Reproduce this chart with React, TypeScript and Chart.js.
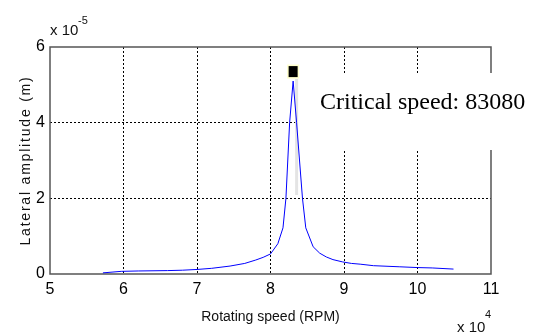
import React, { useEffect, useRef } from "react";
import { Chart, registerables } from "chart.js";

Chart.register(...registerables);

// Rotating speed (RPM)
const speeds: number[] = [
  57200, 59700, 62000, 66000, 68000, 70000, 72000, 74500, 76500, 78000, 79000,
  80000, 81000, 81700, 82100, 82600, 83080, 83550, 84350, 84800, 85800, 86700,
  87600, 88500, 89800, 91000, 92200, 94000, 97600, 100000, 102000, 104900,
];
// Lateral amplitude, in units of 1e-5 m
const amplitudes: number[] = [
  0.03, 0.07, 0.08, 0.09, 0.1, 0.12, 0.15, 0.21, 0.28, 0.37, 0.44,
  0.53, 0.8, 1.22, 2.0, 4.0, 5.1, 4.0, 2.0, 1.22, 0.72, 0.55,
  0.45, 0.38, 0.32, 0.28, 0.26, 0.22, 0.19, 0.17, 0.16, 0.13,
];
const criticalSpeed = 83080;
const markerAmplitude = 5.35;
const annotationText = "Critical speed: 83080";
const xTitle = "Rotating speed (RPM)";
const yTitle = "Lateral amplitude (m)";

const SANS = "'Liberation Sans', Arial, sans-serif";
const SERIF = "'Liberation Serif', 'Times New Roman', serif";

const overlay = {
  id: "overlay",
  beforeDatasetsDraw(chart: any) {
    const { ctx, chartArea: a, scales } = chart;
    ctx.save();
    // axes box
    ctx.strokeStyle = "#555";
    ctx.lineWidth = 1.5;
    ctx.strokeRect(a.left, a.top, a.right - a.left, a.bottom - a.top);
    // white annotation background
    ctx.fillStyle = "#ffffff";
    ctx.fillRect(298, 73, 240, 77);
    // faint shadow next to peak
    const px = scales.x.getPixelForValue(criticalSpeed);
    ctx.fillStyle = "#e4e4e4";
    ctx.fillRect(px + 2, 79, 3, 116);
    ctx.restore();
  },
  afterDatasetsDraw(chart: any) {
    const { ctx, chartArea: a, scales } = chart;
    ctx.save();
    // data tip marker
    const mx = scales.x.getPixelForValue(criticalSpeed);
    const my = scales.y.getPixelForValue(markerAmplitude);
    ctx.fillStyle = "#ffffcc";
    ctx.fillRect(mx - 6, my - 7, 12, 14);
    ctx.fillStyle = "#000";
    ctx.fillRect(mx - 4.5, my - 5.5, 9, 11);
    // annotation text
    ctx.fillStyle = "#000";
    ctx.font = `24px ${SERIF}`;
    ctx.textAlign = "left";
    ctx.textBaseline = "alphabetic";
    ctx.fillText(annotationText, 320, 109);

    // exponent labels
    ctx.fillStyle = "#111";
    ctx.font = `15px ${SANS}`;
    ctx.fillText("x 10", a.left, 35);
    ctx.font = `11px ${SANS}`;
    ctx.fillText("-5", a.left + 28, 24);
    ctx.font = `15px ${SANS}`;
    ctx.fillText("x 10", 457, 332);
    ctx.font = `11px ${SANS}`;
    ctx.fillText("4", 485, 318);

    // axis titles
    ctx.font = `14px ${SANS}`;
    ctx.textAlign = "center";
    ctx.fillStyle = "#111";
    ctx.fillText(xTitle, (a.left + a.right) / 2, 321);
    ctx.translate(30, (a.top + a.bottom) / 2);
    ctx.rotate(-Math.PI / 2);
    try {
      (ctx as any).letterSpacing = "1.8px";
    } catch (e) {}
    ctx.fillText(yTitle, 0, 0);
    ctx.restore();
  },
};

export default function App() {
  const ref = useRef<HTMLCanvasElement>(null);
  useEffect(() => {
    document.body.style.margin = "0";
    const chart = new Chart(ref.current!, {
      type: "line",
      data: {
        datasets: [
          {
            data: speeds.map((s, i) => ({ x: s, y: amplitudes[i] })),
            borderColor: "#0000ff",
            borderWidth: 1,
            pointRadius: 0,
            tension: 0,
            fill: false,
          },
        ],
      },
      options: {
        responsive: false,
        animation: false,
        layout: { padding: { top: 47, right: 49, left: 0, bottom: 0 } },
        plugins: { legend: { display: false }, tooltip: { enabled: false } },
        scales: {
          x: {
            type: "linear",
            min: 50000,
            max: 110000,
            afterFit: (s: any) => {
              s.height = 60;
            },
            ticks: {
              stepSize: 10000,
              padding: 6,
              color: "#000",
              font: { family: SANS, size: 16 },
              callback: (v: any) => String(Math.round(v / 10000)),
              maxRotation: 0,
            },
            grid: {
              drawTicks: false,
              color: (c: any) =>
                c.tick && (c.tick.value === 50000 || c.tick.value === 110000)
                  ? "rgba(0,0,0,0)"
                  : "#000",
              lineWidth: 1,
            },
            border: { display: false, dash: [2, 2] },
          },
          y: {
            type: "linear",
            min: 0,
            max: 6,
            afterFit: (s: any) => {
              s.width = 50;
            },
            ticks: {
              stepSize: 2,
              padding: 5,
              color: "#000",
              font: { family: SANS, size: 16 },
              callback: (v: any) => String(Math.round(v)),
            },
            grid: {
              drawTicks: false,
              color: (c: any) =>
                c.tick && (c.tick.value === 0 || c.tick.value === 6)
                  ? "rgba(0,0,0,0)"
                  : "#000",
              lineWidth: 1,
            },
            border: { display: false, dash: [2, 2] },
          },
        },
      } as any,
      plugins: [overlay],
    });
    return () => chart.destroy();
  }, []);
  return (
    <div style={{ width: 540, height: 334 }}>
      <canvas ref={ref} width={540} height={334} />
    </div>
  );
}
